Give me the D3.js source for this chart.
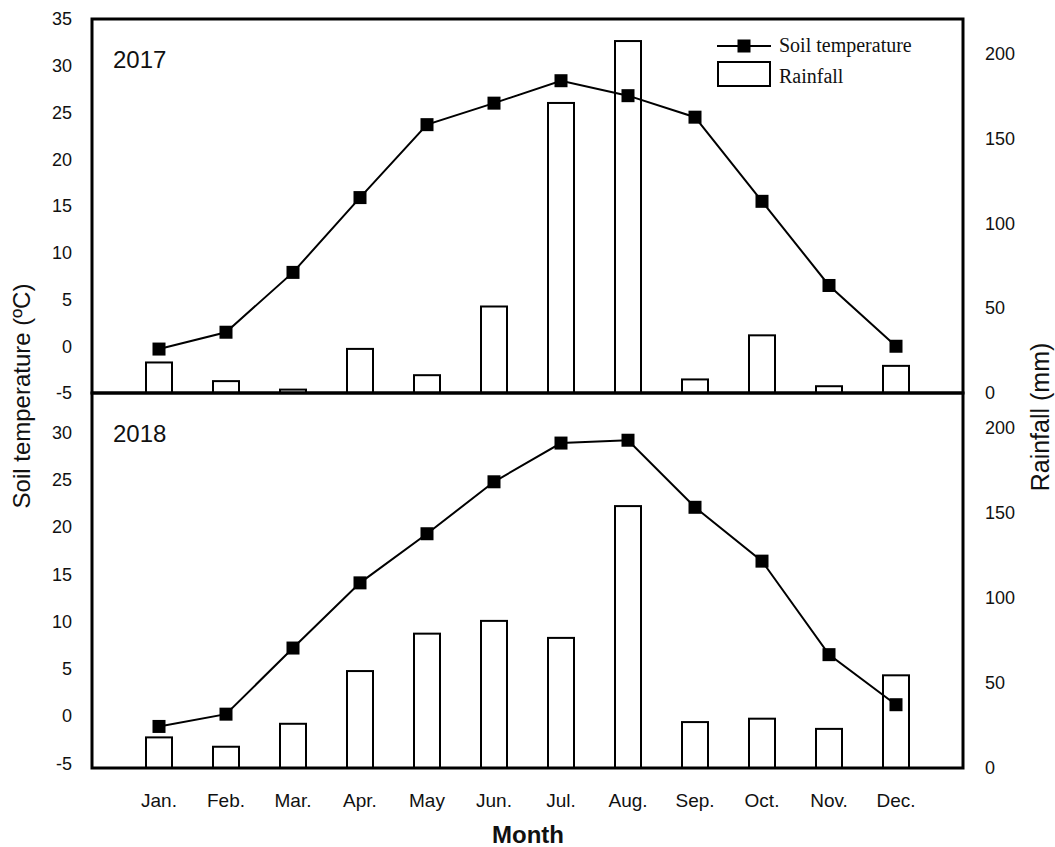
<!DOCTYPE html>
<html>
<head>
<meta charset="utf-8">
<script src="https://cdn.jsdelivr.net/npm/d3@7"></script>
<style>
  body { margin: 0; background: #fff; }
  text { fill: #111; }
</style>
</head>
<body>
<div id="chart"></div>
<script>
const months = ['Jan.', 'Feb.', 'Mar.', 'Apr.', 'May', 'Jun.', 'Jul.', 'Aug.', 'Sep.', 'Oct.', 'Nov.', 'Dec.'];
const years = ['2017', '2018'];

const temp2017 = [-0.3, 1.5, 7.9, 15.9, 23.7, 26.0, 28.4, 26.8, 24.5, 15.5, 6.5, 0.0];
const rain2017 = [18, 7, 2, 26, 10.5, 51, 171, 207.5, 8, 34, 4, 16];

const temp2018 = [-1.1, 0.2, 7.2, 14.1, 19.3, 24.8, 28.9, 29.2, 22.1, 16.4, 6.5, 1.2];
const rain2018 = [18, 12.5, 26, 57, 79, 86.5, 76.5, 154, 27, 29, 23, 54.5];

const tempTicks2017 = [-5, 0, 5, 10, 15, 20, 25, 30, 35];
const tempTicks2018 = [-5, 0, 5, 10, 15, 20, 25, 30];
const rainTicks = [0, 50, 100, 150, 200];

const width = 1055, height = 847;
const left = 92, right = 963;
const panelTop = [19, 393];
const panelBottom = [393, 768];
const tempDomains = [[-5, 35], [-5.5, 34.2]];
const rainDomain = [0, 220.5];

const svg = d3.select('#chart').append('svg')
  .attr('width', width)
  .attr('height', height)
  .style('font-family', 'Liberation Sans, Arial, sans-serif');

const x = d3.scalePoint()
  .domain(months)
  .range([left, right])
  .padding(1);

const panels = [
  { year: years[0], temp: temp2017, rain: rain2017, ticks: tempTicks2017 },
  { year: years[1], temp: temp2018, rain: rain2018, ticks: tempTicks2018 }
];

const barW = 26;
const markerSize = 13;

panels.forEach((p, i) => {
  const yT = d3.scaleLinear().domain(tempDomains[i]).range([panelBottom[i], panelTop[i]]);
  const yR = d3.scaleLinear().domain(rainDomain).range([panelBottom[i], panelTop[i]]);
  const g = svg.append('g');

  // rainfall bars
  g.selectAll('rect.bar')
    .data(p.rain)
    .enter()
    .append('rect')
    .attr('class', 'bar')
    .attr('x', (d, j) => x(months[j]) - barW / 2)
    .attr('y', d => yR(d))
    .attr('width', barW)
    .attr('height', d => yR(0) - yR(d))
    .attr('fill', '#fff')
    .attr('stroke', '#000')
    .attr('stroke-width', 2);

  // temperature line
  const line = d3.line()
    .x((d, j) => x(months[j]))
    .y(d => yT(d));

  g.append('path')
    .datum(p.temp)
    .attr('d', line)
    .attr('fill', 'none')
    .attr('stroke', '#000')
    .attr('stroke-width', 2);

  g.selectAll('rect.mk')
    .data(p.temp)
    .enter()
    .append('rect')
    .attr('class', 'mk')
    .attr('x', (d, j) => x(months[j]) - markerSize / 2)
    .attr('y', d => yT(d) - markerSize / 2)
    .attr('width', markerSize)
    .attr('height', markerSize)
    .attr('fill', '#000');

  // left axis labels (no tick marks)
  const axL = d3.axisLeft(yT).tickValues(p.ticks).tickSize(0).tickPadding(20)
    .tickFormat(d => String(d));
  const gl = g.append('g').attr('transform', 'translate(' + left + ',0)').call(axL);
  gl.select('.domain').remove();
  gl.selectAll('text').style('font-size', '18px').attr('fill', '#111');

  // right axis labels
  const axR = d3.axisRight(yR).tickValues(rainTicks).tickSize(0).tickPadding(22)
    .tickFormat(d => String(d));
  const gr = g.append('g').attr('transform', 'translate(' + right + ',0)').call(axR);
  gr.select('.domain').remove();
  gr.selectAll('text').style('font-size', '18px').attr('fill', '#111');

  // frame
  g.append('rect')
    .attr('x', left)
    .attr('y', panelTop[i])
    .attr('width', right - left)
    .attr('height', panelBottom[i] - panelTop[i])
    .attr('fill', 'none')
    .attr('stroke', '#000')
    .attr('stroke-width', 3);

  g.append('text')
    .attr('x', 113)
    .attr('y', panelTop[i] + 49)
    .style('font-size', '24px')
    .text(p.year);
});

// month labels
svg.append('g')
  .selectAll('text')
  .data(months)
  .enter()
  .append('text')
  .attr('x', d => x(d))
  .attr('y', 807)
  .attr('text-anchor', 'middle')
  .style('font-size', '19px')
  .text(d => d);

svg.append('text')
  .attr('x', 528)
  .attr('y', 843)
  .attr('text-anchor', 'middle')
  .style('font-size', '24px')
  .style('font-weight', 'bold')
  .text('Month');

svg.append('text')
  .attr('transform', 'translate(30,396) rotate(-90)')
  .attr('text-anchor', 'middle')
  .style('font-size', '24px')
  .text('Soil temperature (ºC)');

svg.append('text')
  .attr('transform', 'translate(1049,417) rotate(-90)')
  .attr('text-anchor', 'middle')
  .style('font-size', '25px')
  .text('Rainfall (mm)');

// legend
const leg = svg.append('g').style('font-family', 'Liberation Serif, Times New Roman, serif');
leg.append('line')
  .attr('x1', 717).attr('x2', 771)
  .attr('y1', 46).attr('y2', 46)
  .attr('stroke', '#000').attr('stroke-width', 2);
leg.append('rect')
  .attr('x', 744 - markerSize / 2).attr('y', 46 - markerSize / 2)
  .attr('width', markerSize).attr('height', markerSize)
  .attr('fill', '#000');
leg.append('text')
  .attr('x', 779).attr('y', 52)
  .style('font-size', '20px')
  .text('Soil temperature');
leg.append('rect')
  .attr('x', 718).attr('y', 62)
  .attr('width', 52).attr('height', 24)
  .attr('fill', '#fff').attr('stroke', '#000').attr('stroke-width', 2);
leg.append('text')
  .attr('x', 779).attr('y', 83)
  .style('font-size', '20px')
  .text('Rainfall');
</script>
</body>
</html>
